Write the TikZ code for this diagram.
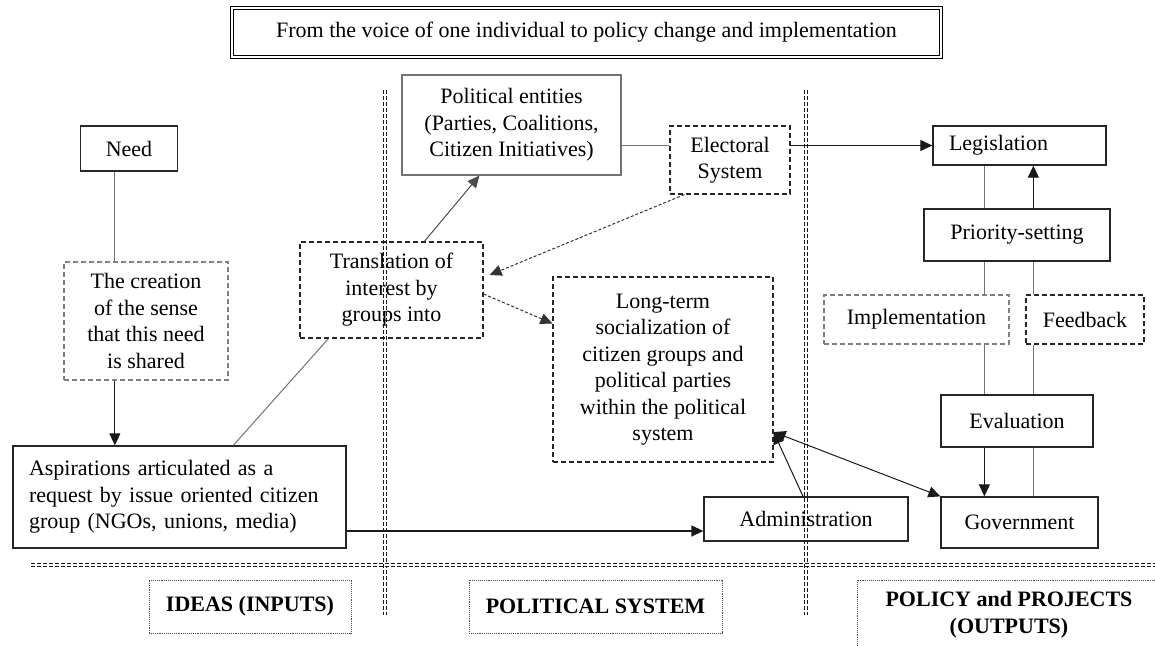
\documentclass[tikz,border=0pt]{standalone}
\usepackage{fontspec}
\setmainfont{Liberation Serif}
\usetikzlibrary{arrows.meta}

\begin{document}
\begin{tikzpicture}[x=1pt, y=-1pt,
		>={Triangle[length=12pt, width=11pt]},
		every node/.style={font=\fontsize{22}{26.5}\selectfont, align=center, inner sep=0pt},
		box/.style={draw=black!85, line width=1.3pt},
		greybox/.style={draw=black!55, line width=1.1pt},
		dashbox/.style={draw=black!85, line width=1.2pt, dash pattern=on 5pt off 3pt},
		greydash/.style={draw=black!50, line width=1.1pt, dash pattern=on 5pt off 3pt},
		lab/.style={draw=black!70, line width=0.9pt, densely dotted, font=\fontsize{22}{27}\selectfont\bfseries},
		link/.style={draw=black!55, line width=1pt},
		arr/.style={->, draw=black!90, line width=1pt},
		dasharr/.style={->, draw=black!80, line width=1pt, dash pattern=on 3pt off 2pt},
		sep/.style={draw=black!90, double, double distance=2pt, line width=0.8pt, dash pattern=on 4pt off 2pt}]
	\useasboundingbox (0,0) rectangle (1155,645);

	\node[draw, line width=1pt, double, double distance=1.5pt, minimum width=709, minimum height=49] (title) at (586.5,32.5) {From the voice of one individual to policy change and implementation};

	\draw[sep] (385,90) -- (385,615);
	\draw[sep] (806,90) -- (806,615);
	\draw[sep] (31,565) -- (1155,565);

	\node[box, minimum width=97, minimum height=45] (need) at (129,148.5) {Need};
	\node[greydash, minimum width=164, minimum height=118] (creation) at (146,321) {The creation\\of the sense\\that this need\\is shared};
	\node[box, text width=301, inner xsep=16pt, minimum height=102, align=left] (asp) at (179.5,497) {Aspirations articulated as a\\request by issue oriented citizen\\group (NGOs, unions, media)};
	\node[dashbox, minimum width=183, minimum height=96] (trans) at (391.5,290) {Translation of\\interest by\\groups into};
	\node[greybox, minimum width=219, minimum height=100] (pol) at (511.5,125) {Political entities\\(Parties, Coalitions,\\Citizen Initiatives)};
	\node[dashbox, minimum width=120, minimum height=68] (elec) at (730,160) {Electoral\\System};
	\node[dashbox, minimum width=220, minimum height=185] (long) at (663,369.5) {Long-term\\socialization of\\citizen groups and\\political parties\\within the political\\system};
	\node[box, minimum width=204, minimum height=44] (admin) at (806,519) {Administration};

	\node[box, text width=141, inner xsep=16pt, minimum height=39, align=left] (legis) at (1019.5,145.5) {Legislation};
	\node[box, minimum width=186, minimum height=52] (prio) at (1017,235) {Priority-setting};
	\node[greydash, minimum width=185, minimum height=49] (impl) at (916.5,319.5) {Implementation};
	\node[dashbox, minimum width=118, minimum height=49] (feed) at (1085,319.5) {Feedback};
	\node[box, minimum width=152, minimum height=52] (eval) at (1017,421) {Evaluation};
	\node[box, minimum width=157, minimum height=51] (gov) at (1019.5,522.5) {Government};

	\node[lab, minimum width=202, minimum height=53] (ideas) at (250,606.5) {IDEAS (INPUTS)};
	\node[lab, minimum width=253, minimum height=53] (polsys) at (595.5,606.5) {POLITICAL SYSTEM};
	\node[font=\fontsize{22}{27}\selectfont\bfseries] (outputs) at (1009,614.5) {POLICY and PROJECTS\\(OUTPUTS)};
	\draw[draw=black!70, line width=0.9pt, densely dotted] (1155,580) -- (857,580) -- (857,645);

	\draw[link] ([xshift=35pt]need.south west) -- ([xshift=35pt]need.south west |- creation.north);
	\draw[arr] ([xshift=35pt]need.south west |- creation.south) -- ([xshift=35pt]need.south west |- asp.north);
	\draw[link] ([xshift=221pt]asp.north west) -- ([xshift=29pt]trans.south west);
	\draw[arr, draw=black!70] ([xshift=125pt]trans.north west) -- ([xshift=78pt]pol.south west);
	\draw[link] (pol.east |- legis.west) -- (elec.west |- legis.west);
	\draw[arr] (elec.east |- legis.west) -- (legis.west);
	\draw[dasharr] ([xshift=15pt]elec.south west) -- ([xshift=6pt, yshift=15pt]trans.east);
	\draw[dasharr] ([yshift=-4pt]trans.east) -- ([yshift=46pt]long.west);
	\draw[arr, line width=1.3pt] ([yshift=-34pt]asp.east) -- ([yshift=-34pt]asp.east -| admin.west);
	\draw[arr] ([xshift=-3pt]admin.north) -- ([yshift=-62.5pt]long.east);
	\draw[arr, <->] ([yshift=-62.5pt]long.east) -- (gov.north west);

	\draw[link] ([xshift=52pt]legis.south west) -- ([xshift=52pt]legis.south west |- prio.north);
	\draw[arr] ([xshift=101pt]legis.south west |- prio.north) -- ([xshift=101pt]legis.south west);
	\draw[link] ([xshift=52pt]legis.south west |- prio.south) -- ([xshift=52pt]legis.south west |- impl.north);
	\draw[link] ([xshift=101pt]legis.south west |- prio.south) -- ([xshift=101pt]legis.south west |- feed.north);
	\draw[link] ([xshift=52pt]legis.south west |- impl.south) -- ([xshift=52pt]legis.south west |- eval.north);
	\draw[link] ([xshift=101pt]legis.south west |- feed.south) -- ([xshift=101pt]legis.south west |- eval.north);
	\draw[arr] ([xshift=52pt]legis.south west |- eval.south) -- ([xshift=52pt]legis.south west |- gov.north);
	\draw[link] ([xshift=101pt]legis.south west |- eval.south) -- ([xshift=101pt]legis.south west |- gov.north);
\end{tikzpicture}
\end{document}
